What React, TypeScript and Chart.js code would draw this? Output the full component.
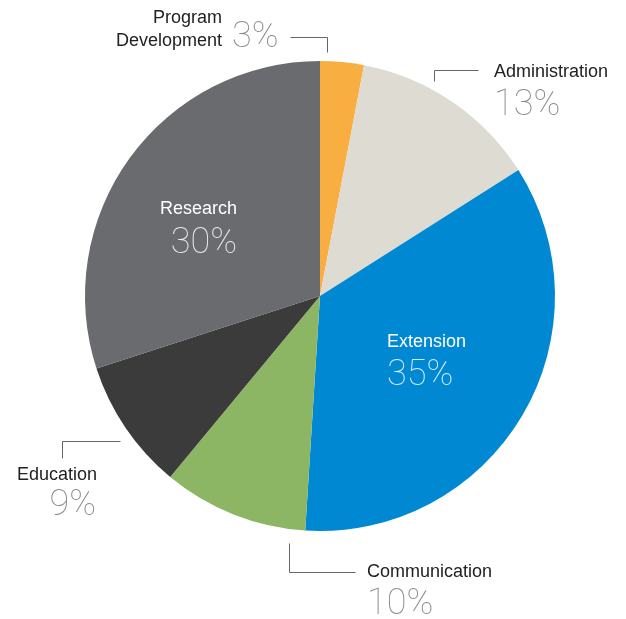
import React, { useEffect, useRef } from "react";
import { Chart, registerables } from "chart.js";

Chart.register(...registerables);

const categories = ["Program Development", "Administration", "Extension", "Communication", "Education", "Research"];
const values = [3, 13, 35, 10, 9, 30];
const colors = ["#F9AE41", "#DEDBD2", "#0089D2", "#8CB663", "#3B3B3C", "#6A6B6F"];

// label layout: relative to pie centre (dx, dy), lines of name text, alignment, inside or outside
const labelLayout = [
  { name: ["Program", "Development"], nameX: -98, nameY: [-278, -255], nameAlign: "right", pctX: -88, pctY: -258, pctAlign: "left", inside: false, leader: [[-30, -259], [7, -259], [7, -244]] },
  { name: ["Administration"], nameX: 174, nameY: [-224], nameAlign: "left", pctX: 174, pctY: -190, pctAlign: "left", inside: false, leader: [[158, -226], [114, -226], [114, -215]] },
  { name: ["Extension"], nameX: 67, nameY: [46], nameAlign: "left", pctX: 67, pctY: 80, pctAlign: "left", inside: true, leader: null },
  { name: ["Communication"], nameX: 47, nameY: [276], nameAlign: "left", pctX: 47, pctY: 309, pctAlign: "left", inside: false, leader: [[35, 276], [-31, 276], [-31, 247]] },
  { name: ["Education"], nameX: -223, nameY: [179], nameAlign: "right", pctX: -224, pctY: 210, pctAlign: "right", inside: false, leader: [[-258, 162], [-258, 145], [-200, 145]] },
  { name: ["Research"], nameX: -83, nameY: [-87], nameAlign: "right", pctX: -83, pctY: -52, pctAlign: "right", inside: true, leader: null },
];

const labelPlugin = {
  id: "pieLabels",
  afterDraw(chart: any) {
    const meta = chart.getDatasetMeta(0);
    const arc = meta.data[0];
    if (!arc) return;
    const cx = arc.x;
    const cy = arc.y;
    const ctx = chart.ctx;
    ctx.save();
    labelLayout.forEach((l, i) => {
      const nameColor = l.inside ? "#FFFFFF" : "#222222";
      const pctColor = l.inside ? "rgba(255,255,255,0.85)" : "#8A8A8A";
      ctx.textBaseline = "middle";
      ctx.font = "18px 'Liberation Sans', Arial, sans-serif";
      ctx.fillStyle = nameColor;
      ctx.textAlign = l.nameAlign;
      l.name.forEach((t, j) => ctx.fillText(t, cx + l.nameX, cy + l.nameY[j]));
      ctx.font = "100 36px Roboto, Lato, sans-serif";
      ctx.fillStyle = pctColor;
      ctx.textAlign = l.pctAlign;
      ctx.fillText(values[i] + "%", cx + l.pctX, cy + l.pctY);
      if (l.leader) {
        ctx.strokeStyle = "#666666";
        ctx.lineWidth = 1;
        ctx.beginPath();
        l.leader.forEach((p, k) => {
          const x = Math.round(cx + p[0]) + 0.5;
          const y = Math.round(cy + p[1]) + 0.5;
          if (k === 0) ctx.moveTo(x, y);
          else ctx.lineTo(x, y);
        });
        ctx.stroke();
      }
    });
    ctx.restore();
  },
};

export default function App() {
  const ref = useRef<HTMLCanvasElement | null>(null);
  useEffect(() => {
    if (!ref.current) return;
    const chart = new Chart(ref.current, {
      type: "pie",
      data: {
        labels: categories,
        datasets: [
          {
            data: values,
            backgroundColor: colors,
            borderWidth: 0,
          },
        ],
      },
      options: {
        animation: false,
        responsive: false,
        layout: { padding: { left: 85, right: 71, top: 61, bottom: 88 } },
        plugins: {
          legend: { display: false },
          tooltip: { enabled: false },
        },
      },
      plugins: [labelPlugin],
    });
    return () => chart.destroy();
  }, []);
  return (
    <div style={{ position: "fixed", left: 0, top: 0, width: 626, height: 619, background: "#fff" }}>
      <canvas ref={ref} width={626} height={619} style={{ width: 626, height: 619 }} />
    </div>
  );
}
